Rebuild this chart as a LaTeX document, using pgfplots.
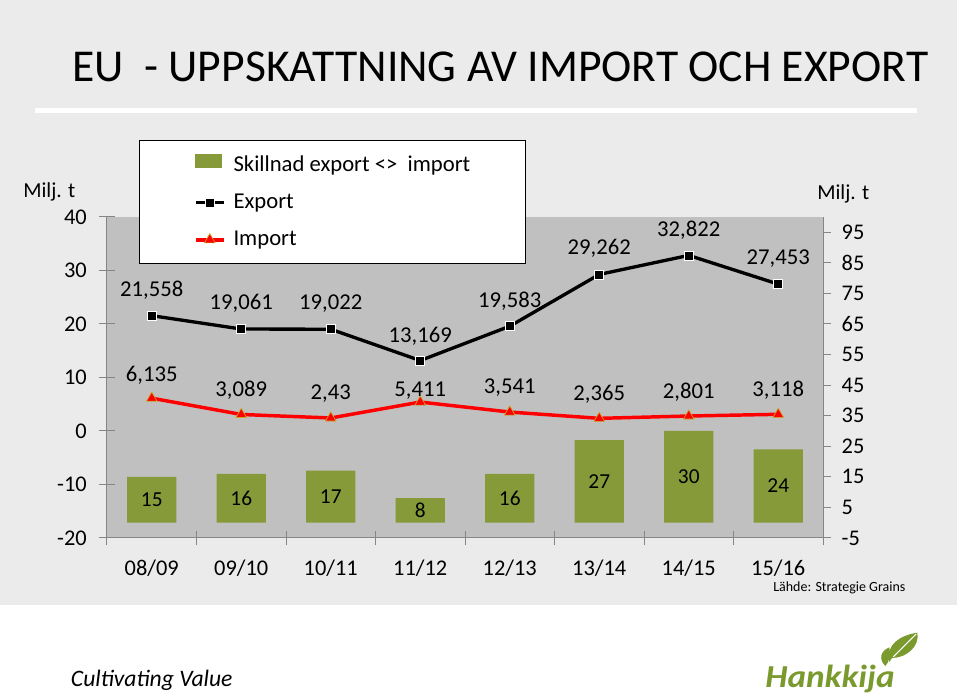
\documentclass[border=0pt]{standalone}
\usepackage{fontspec}
\setmainfont{Carlito}
\usepackage{pgfplots}
\usepackage{pgfplotstable}
\pgfplotsset{compat=1.18}
\definecolor{panel}{RGB}{235,235,235}
\definecolor{plotbg}{RGB}{192,192,192}
\definecolor{barcol}{RGB}{134,154,58}
\definecolor{axgray}{RGB}{134,134,134}
\definecolor{hank}{RGB}{122,154,46}
\definecolor{triedge}{RGB}{200,170,40}

\pgfplotstableread{
x v
0 15
1 16
2 17
3 8
4 16
5 27
6 30
7 24
}\diffdata

\pgfplotstableread{
x y lab dy
0 21.558 21,558 19
1 19.061 19,061 19
2 19.022 19,022 19
3 13.169 13,169 18.5
4 19.583 19,583 19
5 29.262 29,262 19.5
6 32.822 32,822 19
7 27.453 27,453 19.5
}\exportdata

\pgfplotstableread{
x y lab dy
0 6.135 6,135 17.5
1 3.089 3,089 18.2
2 2.430 2,43 18.2
3 5.411 5,411 8.8
4 3.541 3,541 18.4
5 2.365 2,365 18.2
6 2.801 2,801 18.2
7 3.118 3,118 18.2
}\importdata

\begin{document}
\begin{tikzpicture}
\path[use as bounding box] (0pt,0pt) rectangle (720pt,523.5pt);
\fill[white] (0pt,0pt) rectangle (720pt,523.5pt);
\fill[panel] (0pt,69.75pt) rectangle (717.75pt,523.5pt);
\fill[white] (26.25pt,438.75pt) rectangle (687.75pt,442.5pt);
\node[anchor=base west, inner sep=0pt, font=\fontsize{34.2}{41}\selectfont] at (54pt,462.2pt) {EU~~- UPPSKATTNING AV IMPORT OCH EXPORT};

% bars on the right axis
\begin{axis}[
  at={(80.25pt,120pt)}, anchor=south west,
  scale only axis, width=537pt, height=240.75pt,
  xmin=-0.5, xmax=7.5, ymin=-5, ymax=100,
  axis background/.style={fill=plotbg},
  axis x line*=bottom, axis y line*=right,
  axis line style={axgray, line width=0.75pt},
  xtick=\empty,
  ytick={-5,5,...,95},
  tick align=outside, major tick length=6pt,
  tick style={axgray, line width=0.75pt},
  tick label style={font=\fontsize{16.8}{20}\selectfont},
  yticklabel style={xshift=4.5pt},
  /pgf/number format/assume math mode=true,
  clip=false,
]
\addplot[ybar, bar width=0.55, fill=barcol, draw=none,
  nodes near coords,
  visualization depends on={rawy \as \rawy},
  nodes near coords style={anchor=center, yshift={-1.1464pt*\rawy}, font=\fontsize{16}{19}\selectfont, text=black},
] table[x=x,y=v] {\diffdata};
\end{axis}

% lines on the left axis
\begin{axis}[
  at={(80.25pt,120pt)}, anchor=south west,
  scale only axis, width=537pt, height=240.75pt,
  xmin=-0.5, xmax=7.5, ymin=-20, ymax=40,
  axis x line*=bottom, axis y line*=left,
  axis line style={axgray, line width=0.75pt},
  xtick={0,...,7},
  xticklabels={08/09,09/10,10/11,11/12,12/13,13/14,14/15,15/16},
  minor xtick={-0.5,0.5,...,7.5},
  ytick={-20,-10,...,40},
  tick align=center, major tick length=11.25pt, minor tick length=10.5pt,
  tick style={axgray, line width=0.75pt},
  major x tick style={draw=none},
  tick label style={font=\fontsize{16.8}{20}\selectfont},
  yticklabel style={xshift=-6pt},
  xticklabel style={yshift=-7pt},
  /pgf/number format/assume math mode=true,
  clip=false,
  legend style={at={(0.0447,1.2399)}, anchor=north west, draw=black, line width=0.6pt, fill=white,
    font=\fontsize{17}{20}\selectfont, inner xsep=41pt, inner ysep=10pt, row sep=11.75pt, column sep=6pt,
    nodes={inner sep=0pt, text height=12pt, text depth=4pt}},
  legend cell align=left,
  legend image code/.code={\draw[mark repeat=2,mark phase=2,#1] plot coordinates {(0pt,0pt) (10.5pt,0pt) (21pt,0pt)};},
]
\addlegendimage{legend image code/.code={\fill[barcol] (0pt,-1pt) rectangle (19pt,8.75pt);}}
\addlegendentry{Skillnad export <>~~import\hspace{4pt}}

\addplot[black, line width=2.5pt, mark=square*, mark size=3.4pt,
  mark options={fill=black, draw=white, line width=0.5pt},
  nodes near coords, point meta=explicit symbolic,
  visualization depends on={\thisrow{dy} \as \dy},
  nodes near coords style={anchor=center, yshift=\dy pt, font=\fontsize{17}{20}\selectfont, text=black}]
  table[x=x,y=y,meta=lab] {\exportdata};
\addlegendentry{Export}

\addplot[red, line width=2.6pt, mark=triangle*, mark size=4.6pt,
  mark options={fill=red, draw=triedge, line width=0.5pt},
  nodes near coords, point meta=explicit symbolic,
  visualization depends on={\thisrow{dy} \as \dy},
  nodes near coords style={anchor=center, yshift=\dy pt, font=\fontsize{17}{20}\selectfont, text=black}]
  table[x=x,y=y,meta=lab] {\importdata};
\addlegendentry{Import}
\end{axis}

\node[anchor=base west, inner sep=0pt, font=\fontsize{16}{19}\selectfont] at (17.25pt,375.5pt) {Milj. t};
\node[anchor=base west, inner sep=0pt, font=\fontsize{16}{19}\selectfont] at (612.75pt,374pt) {Milj. t};
\node[anchor=base west, inner sep=0pt, font=\fontsize{10.5}{12}\selectfont] at (579.75pt,79.5pt) {Lähde: Strategie Grains};
\node[anchor=base west, inner sep=0pt, font=\fontsize{17.7}{21}\selectfont\itshape] at (53pt,8.5pt) {Cultivating Value};
\node[anchor=base west, inner sep=0pt, xscale=1.1, font=\fontsize{24}{28}\selectfont\bfseries\itshape, text=hank] at (573.75pt,7.5pt) {Hankkija};
\fill[hank] (667pt,27pt) .. controls (664pt,40pt) and (675pt,47pt) .. (688pt,49pt)
  .. controls (690pt,39pt) and (680pt,30pt) .. (669pt,30pt) -- cycle;
\fill[hank] (664pt,24pt) .. controls (659pt,29pt) and (660pt,35pt) .. (667pt,38pt)
  .. controls (668pt,32pt) and (667pt,27pt) .. cycle;
\draw[white, line width=0.8pt] (670pt,31pt) .. controls (676pt,37pt) and (682pt,43pt) .. (687pt,48pt);
\end{tikzpicture}
\end{document}
